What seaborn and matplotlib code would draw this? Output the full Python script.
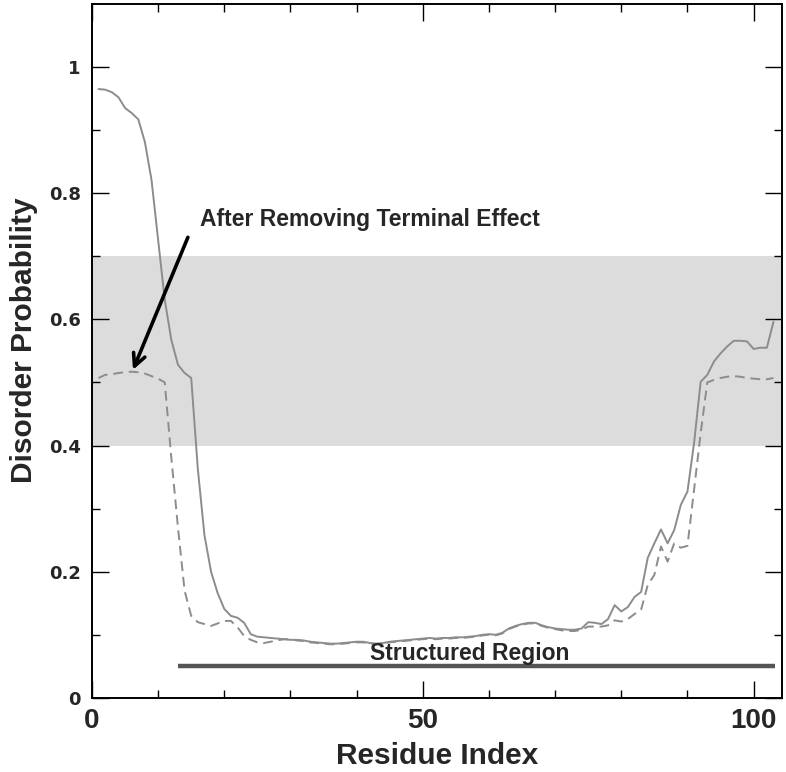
import numpy as np
import pandas as pd
import matplotlib
matplotlib.use('Agg')
import matplotlib.pyplot as plt
import seaborn as sns

# Dados
residuos = list(range(1, 104))
prob_original = [
    0.965, 0.964, 0.960, 0.952, 0.935, 0.927, 0.917, 0.881, 0.821, 0.726,
    0.631, 0.567, 0.528, 0.515, 0.507, 0.363, 0.258, 0.200, 0.166, 0.141,
    0.130, 0.127, 0.119, 0.101, 0.097, 0.096, 0.095, 0.094, 0.093, 0.092,
    0.092, 0.091, 0.089, 0.088, 0.087, 0.086, 0.086, 0.087, 0.088, 0.089,
    0.089, 0.087, 0.086, 0.087, 0.089, 0.090, 0.091, 0.092, 0.093, 0.094,
    0.095, 0.094, 0.095, 0.095, 0.096, 0.096, 0.097, 0.098, 0.100, 0.101,
    0.100, 0.103, 0.110, 0.114, 0.117, 0.119, 0.119, 0.115, 0.112, 0.110,
    0.109, 0.108, 0.108, 0.110, 0.120, 0.119, 0.117, 0.125, 0.147, 0.137,
    0.144, 0.160, 0.168, 0.222, 0.245, 0.267, 0.245, 0.266, 0.306, 0.327,
    0.404, 0.501, 0.512, 0.533, 0.546, 0.557, 0.566, 0.566, 0.565, 0.553,
    0.555, 0.555, 0.596,
]
prob_corrigida = [
    0.507, 0.512, 0.513, 0.515, 0.516, 0.517, 0.516, 0.514, 0.510, 0.506,
    0.500, 0.380, 0.270, 0.170, 0.130, 0.120, 0.117, 0.114, 0.118, 0.122,
    0.122, 0.112, 0.098, 0.092, 0.088, 0.087, 0.089, 0.091, 0.093, 0.093,
    0.091, 0.090, 0.088, 0.087, 0.086, 0.085, 0.085, 0.086, 0.087, 0.088,
    0.088, 0.086, 0.085, 0.086, 0.088, 0.089, 0.090, 0.091, 0.092, 0.093,
    0.094, 0.093, 0.094, 0.094, 0.095, 0.095, 0.096, 0.097, 0.099, 0.100,
    0.099, 0.102, 0.109, 0.113, 0.116, 0.118, 0.118, 0.114, 0.111, 0.109,
    0.107, 0.106, 0.106, 0.108, 0.113, 0.113, 0.113, 0.115, 0.123, 0.121,
    0.125, 0.133, 0.140, 0.179, 0.195, 0.240, 0.216, 0.245, 0.238, 0.241,
    0.330, 0.420, 0.500, 0.504, 0.507, 0.509, 0.510, 0.509, 0.507, 0.506,
    0.505, 0.505, 0.507,
]
faixa_cinza = [0.4, 0.7]
regiao_estruturada = [13, 103.3]
nivel_regiao = 0.05
yticks = [0, 0.2, 0.4, 0.6, 0.8, 1.0]
yticklabels = ['0', '0.2', '0.4', '0.6', '0.8', '1']
xticks = [0, 50, 100]
xticklabels = ['0', '50', '100']

df = pd.DataFrame({'residuo': residuos,
                   'original': prob_original,
                   'corrigida': prob_corrigida})

sns.set_style('ticks')
plt.rcParams['font.family'] = ['Liberation Sans', 'DejaVu Sans']

fig = plt.figure(figsize=(7.86, 7.72), dpi=100)
ax = fig.add_axes([0.117, 0.096, 0.878, 0.899])

ax.axhspan(faixa_cinza[0], faixa_cinza[1], color='#dcdcdc', lw=0, zorder=0)

sns.lineplot(data=df, x='residuo', y='original', ax=ax, color='#8c8c8c', lw=1.4)
sns.lineplot(data=df, x='residuo', y='corrigida', ax=ax, color='#8c8c8c', lw=1.4)
ax.lines[-1].set_dashes([5, 3])

ax.plot(regiao_estruturada, [nivel_regiao, nivel_regiao], color='#555555', lw=3.2,
        solid_capstyle='butt')
ax.text(57.1, 0.060, 'Structured Region', ha='center', va='baseline',
        fontsize=16.5, fontweight='bold')

ax.text(16.3, 0.748, 'After Removing Terminal Effect', ha='left', va='baseline',
        fontsize=16.5, fontweight='bold')
ax.annotate('', xy=(6.2, 0.52), xytext=(14.5, 0.73),
            arrowprops=dict(arrowstyle='->', lw=2.6, color='black',
                            mutation_scale=22, shrinkA=0, shrinkB=0))

ax.set_xlim(0, 104.3)
ax.set_ylim(0, 1.1)
ax.set_xticks(xticks)
ax.set_xticklabels(xticklabels, fontweight='bold', fontsize=20)
ax.set_xticks(np.arange(10, 101, 10), minor=True)
ax.set_yticks(yticks)
ax.set_yticklabels(yticklabels, family=['DejaVu Sans'], fontweight='bold', fontsize=13)
ax.set_yticks(np.arange(0.1, 1.1, 0.2), minor=True)

ax.tick_params(which='both', direction='in', top=True, right=True, width=1.0,
               color='black')
ax.tick_params(which='major', length=12)
ax.tick_params(which='minor', length=6)
ax.tick_params(axis='x', which='major', pad=7)
ax.tick_params(axis='y', which='major', pad=8)

for s in ax.spines.values():
    s.set_linewidth(1.4)
    s.set_color('black')

ax.set_xlabel('Residue Index', fontweight='bold', fontsize=21.5, labelpad=6)
ax.set_ylabel('Disorder Probability', fontweight='bold', fontsize=21.5)
ax.yaxis.set_label_coords(-0.078, 0.516)

fig.savefig('out.png', dpi=100)
